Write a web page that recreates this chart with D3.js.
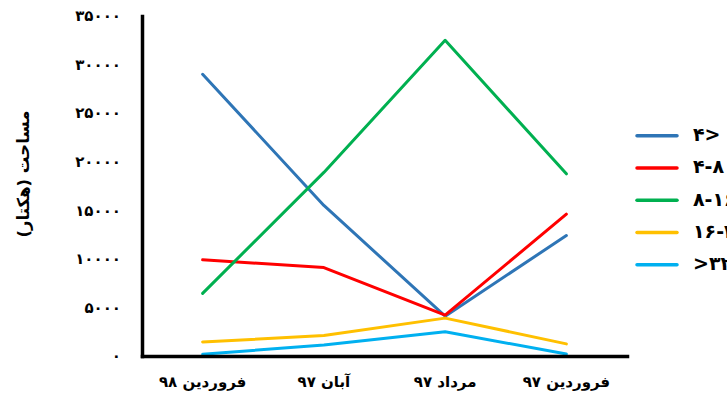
<!DOCTYPE html>
<html>
<head>
<meta charset="utf-8">
<script src="https://cdn.jsdelivr.net/npm/d3@7"></script>
<style>
  html, body { margin: 0; padding: 0; background: #fff; }
  svg { display: block; font-family: "DejaVu Sans", sans-serif; }
</style>
</head>
<body>
<svg id="chart" width="727" height="397"></svg>
<script>
// ---- data ----
const categories = ["فروردین ۹۸", "آبان ۹۷", "مرداد ۹۷", "فروردین ۹۷"];
const seriesNames = ["۴>", "۴-۸", "۸-۱۶", "۱۶-۳۲", ">۳۲"];
const seriesColors = ["#2E75B6", "#FF0000", "#00B050", "#FFC000", "#00B0F0"];
const valuesLt4   = [29000, 15500, 4100, 12400];
const values4to8  = [9900, 9100, 4200, 14600];
const values8to16 = [6450, 18900, 32500, 18750];
const values16to32 = [1450, 2100, 3900, 1250];
const valuesGt32  = [180, 1130, 2500, 200];
const yTickValues = [0, 5000, 10000, 15000, 20000, 25000, 30000, 35000];
const yTickLabels = ["۰", "۵۰۰۰", "۱۰۰۰۰", "۱۵۰۰۰", "۲۰۰۰۰", "۲۵۰۰۰", "۳۰۰۰۰", "۳۵۰۰۰"];
const yTitle = "مساحت (هکتار)";

const seriesValues = [valuesLt4, values4to8, values8to16, values16to32, valuesGt32];

// ---- layout ----
const svg = d3.select("#chart");
const x = d3.scaleBand().domain(categories).range([142, 627]).padding(0);
const y = d3.scaleLinear().domain([0, 35000]).range([356, 16]);
const cx = c => x(c) + x.bandwidth() / 2;

// lines
const line = d3.line()
  .x((d, i) => cx(categories[i]))
  .y(d => y(d));

seriesValues.forEach((vals, k) => {
  svg.append("path")
    .datum(vals)
    .attr("d", line)
    .attr("fill", "none")
    .attr("stroke", seriesColors[k])
    .attr("stroke-width", 3)
    .attr("stroke-linejoin", "round")
    .attr("stroke-linecap", "round");
});

// y axis
const yAxis = d3.axisLeft(y)
  .tickValues(yTickValues)
  .tickFormat((d, i) => yTickLabels[i])
  .tickSize(0)
  .tickSizeOuter(0)
  .tickPadding(21);
const gy = svg.append("g").attr("transform", "translate(142,0)").call(yAxis);
gy.select(".domain").attr("stroke", "#000").attr("stroke-width", 3.5).attr("stroke-linecap", "square");
gy.selectAll("text")
  .attr("font-size", 15)
  .attr("font-weight", "bold")
  .attr("font-family", "DejaVu Sans, sans-serif")
  .attr("fill", "#000");

// x axis
const xAxis = d3.axisBottom(x).tickSize(0).tickSizeOuter(0).tickPadding(20);
const gx = svg.append("g").attr("transform", "translate(0,356)").call(xAxis);
gx.select(".domain").attr("stroke", "#000").attr("stroke-width", 3.5).attr("stroke-linecap", "square");
gx.selectAll("text")
  .attr("font-size", 15)
  .attr("font-weight", "bold")
  .attr("font-family", "DejaVu Sans, sans-serif")
  .attr("direction", "rtl")
  .attr("text-anchor", "middle")
  .attr("fill", "#000");

// y title
svg.append("text")
  .attr("transform", "translate(24,174) rotate(-90)")
  .attr("text-anchor", "middle")
  .attr("dominant-baseline", "middle")
  .attr("direction", "rtl")
  .attr("font-size", 16.5)
  .attr("font-weight", "bold")
  .attr("fill", "#000")
  .text(yTitle);

// legend
const legY = d3.scalePoint().domain(seriesNames).range([135.7, 264.7]);
const leg = svg.append("g");
seriesNames.forEach((name, k) => {
  leg.append("line")
    .attr("x1", 637).attr("x2", 677)
    .attr("y1", legY(name)).attr("y2", legY(name))
    .attr("stroke", seriesColors[k])
    .attr("stroke-width", 3.5)
    .attr("stroke-linecap", "round");
  leg.append("text")
    .attr("x", 693)
    .attr("y", legY(name))
    .attr("dominant-baseline", "middle")
    .attr("font-size", 19)
    .attr("font-weight", "bold")
    .attr("fill", "#000")
    .text(name);
});
</script>
</body>
</html>
